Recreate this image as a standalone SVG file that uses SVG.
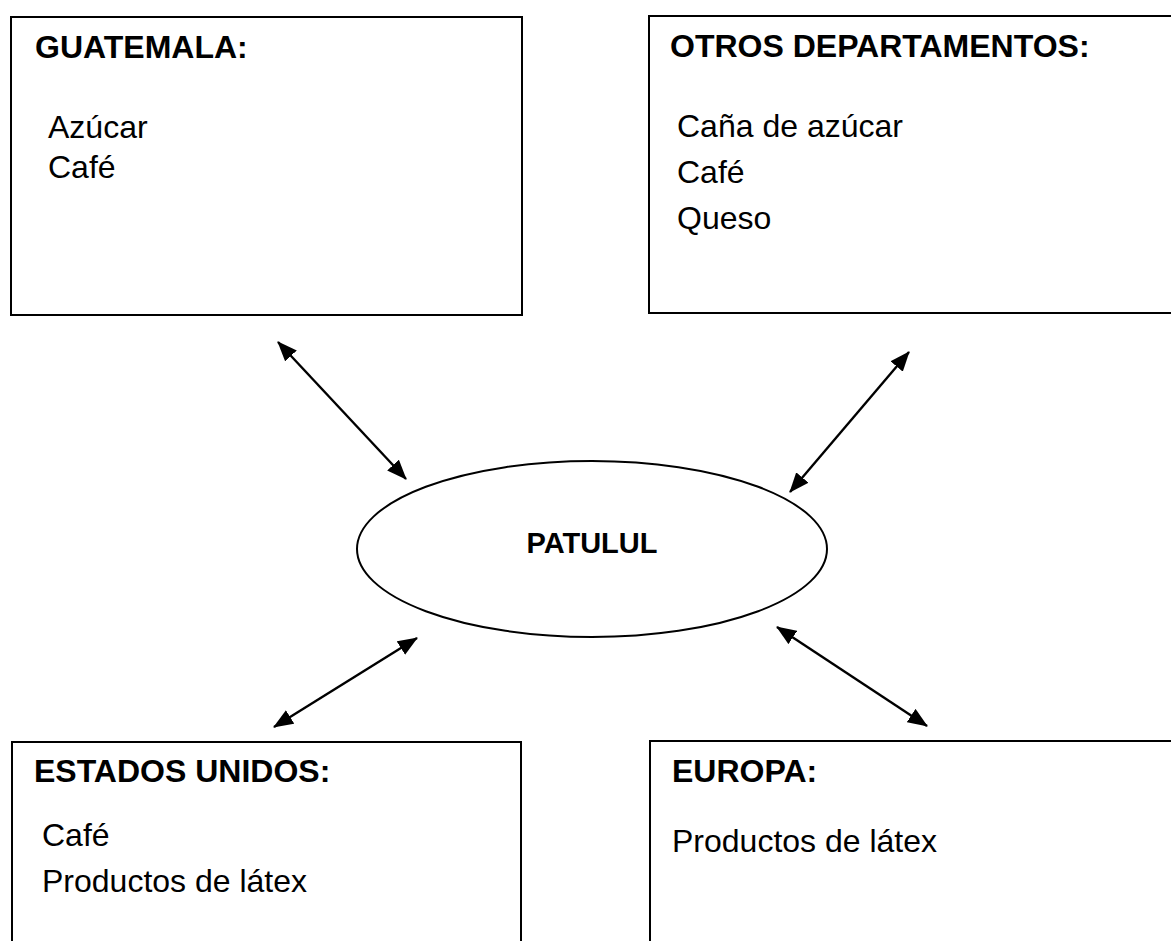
<svg xmlns="http://www.w3.org/2000/svg" width="1171" height="941" viewBox="0 0 1171 941">
<defs>
<style>
.box{fill:none;stroke:#000;stroke-width:2}
.h{font-family:"Liberation Sans",Arial,sans-serif;font-weight:bold;font-size:32px;fill:#000}
.t{font-family:"Liberation Sans",Arial,sans-serif;font-size:32px;fill:#000}
.c{stroke:#000;stroke-width:2.4;fill:none;marker-start:url(#ah);marker-end:url(#ah)}
</style>
<marker id="ah" viewBox="0 0 20 16" refX="19" refY="8" markerWidth="20" markerHeight="16" markerUnits="userSpaceOnUse" orient="auto-start-reverse">
<path d="M0,0 L20,8 L0,16 Z" fill="#000"/>
</marker>
</defs>
<rect width="1171" height="941" fill="#fff"/>
<g id="guatemala">
<rect class="box" x="11" y="17" width="511" height="298"/>
<text class="h" x="35" y="58">GUATEMALA:</text>
<text class="t" x="48" y="138">Azúcar</text>
<text class="t" x="48" y="178">Café</text>
</g>
<g id="otros">
<rect class="box" x="649" y="16" width="540" height="297"/>
<text class="h" x="670" y="57">OTROS DEPARTAMENTOS:</text>
<text class="t" x="677" y="137">Caña de azúcar</text>
<text class="t" x="677" y="183">Café</text>
<text class="t" x="677" y="229">Queso</text>
</g>
<g id="patulul">
<ellipse class="box" cx="592" cy="549" rx="235" ry="88"/>
<text class="h" x="592" y="553" text-anchor="middle" style="font-size:29px">PATULUL</text>
</g>
<g id="eeuu">
<rect class="box" x="12" y="742" width="509" height="260"/>
<text class="h" x="34" y="782">ESTADOS UNIDOS:</text>
<text class="t" x="42" y="846">Café</text>
<text class="t" x="42" y="892">Productos de látex</text>
</g>
<g id="europa">
<rect class="box" x="650" y="741" width="540" height="260"/>
<text class="h" x="672" y="782">EUROPA:</text>
<text class="t" x="672" y="852">Productos de látex</text>
</g>
<g id="connectors">
<line class="c" x1="278" y1="342" x2="406" y2="479"/>
<line class="c" x1="909" y1="352" x2="790" y2="492"/>
<line class="c" x1="417" y1="638" x2="274" y2="727"/>
<line class="c" x1="777" y1="627" x2="927" y2="726"/>
</g>
</svg>
